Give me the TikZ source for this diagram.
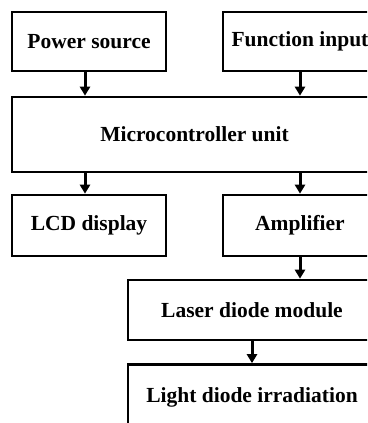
\documentclass[tikz,border=0pt]{standalone}
\usepackage{fontspec}
\setmainfont{Liberation Serif}
\usepackage{tikz}
\usetikzlibrary{arrows.meta}

\begin{document}
\begin{tikzpicture}[x=1pt, y=1pt,
        blk/.style={draw, line width=2.6pt, inner sep=0pt, minimum height=60pt,
            font=\bfseries\fontsize{21.5}{24}\selectfont},
        arr/.style={line width=3pt, -{Triangle[width=10pt,length=9pt]}}]
            \useasboundingbox (0,0) rectangle (367,423);
            \clip (0,0) rectangle (367,423);
            \node[blk, minimum width=154pt, minimum height=59pt] (P) at (89,381.5) {Power source};
            \node[blk, minimum width=154pt, minimum height=59pt] (F) at (300,381.5) {Function input};
            \node[blk, minimum width=365pt, minimum height=75pt] (M) at (194.5,288.5) {Microcontroller unit};
            \node[blk, minimum width=154pt, minimum height=61pt] (L) at (89,197.5) {LCD display};
            \node[blk, minimum width=154pt, minimum height=61pt] (A) at (300,197.5) {Amplifier};
            \node[blk, minimum width=248pt] (D) at (252,113) {Laser diode module};
            \node[blk, minimum width=248pt, minimum height=65pt] (I) at (252,26) {Light diode irradiation};
            %\draw[help lines] (0,0) grid[step=50] (367,423);
            \draw[arr] ([xshift=-4pt]P.south) -- ([xshift=-4pt]P.south |- M.north);
            \draw[arr] (F.south) -- (F.south |- M.north);
            \draw[arr] ([xshift=-4pt]M.south -| L.north) -- ([xshift=-4pt]L.north);
            \draw[arr] (M.south -| A.north) -- (A.north);
            \draw[arr] (A.south) -- (A.south |- D.north);
            \draw[arr] (D.south) -- (I.north);
        \end{tikzpicture}
\end{document}
